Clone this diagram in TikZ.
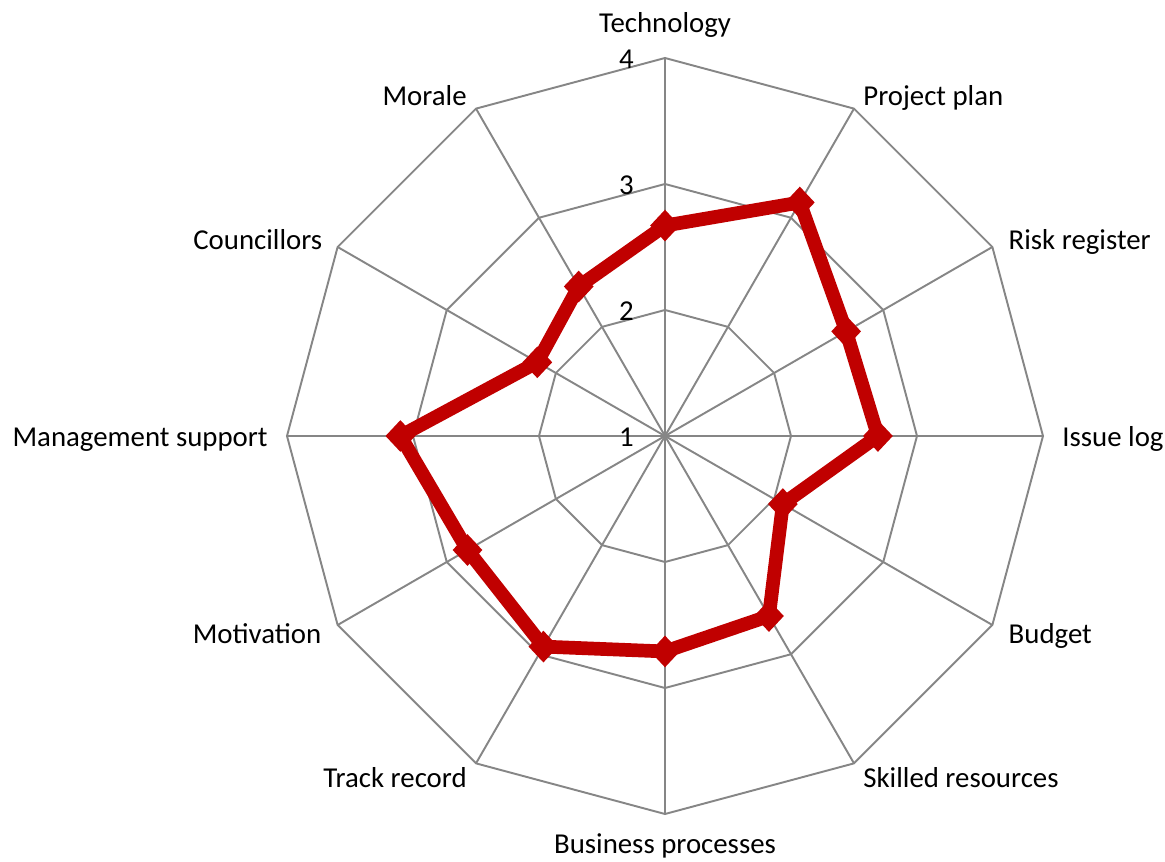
\documentclass[tikz,border=0pt]{standalone}
\usepackage{fontspec}
\setmainfont{Carlito}
\usetikzlibrary{shapes.geometric}
\definecolor{gridgray}{HTML}{868686}
\definecolor{seriesred}{HTML}{C00000}
\tikzset{
  grid line/.style={draw=gridgray, line width=1.1pt},
  series line/.style={draw=seriesred, line width=7.8pt, line join=round},
  marker/.style={diamond, fill=seriesred, inner sep=0pt,
    minimum width=0.6cm, minimum height=0.64cm},
  axis label/.style={font=\fontsize{16.4}{19}\selectfont, inner sep=0pt},
}
\begin{document}
\begin{tikzpicture}
\def\rstep{2.52}
\useasboundingbox (-13.3,-8.52) rectangle (10.0,8.72);
\coordinate (o) at (0,0);
% rings
\foreach \r in {1,2,3}
  \draw[grid line] (0:\r*\rstep) \foreach \a in {30,60,...,330} { -- (\a:\r*\rstep) } -- cycle;
% spokes
\foreach \a in {0,30,...,330} {
  \coordinate (v\a) at (\a:3*\rstep);
  \draw[grid line] (o) -- (v\a);
}
% scale
\foreach \v [count=\i from 0] in {1,2,3,4}
  \node[axis label, anchor=base east] (t\v) at (-0.62,{\i*\rstep-0.22}) {\v};
% categories
\foreach \a/\txt/\anc/\sx/\sy [count=\i] in {
  90/Technology/base/0/25,
  60/Project plan/base west/9/3,
  30/Risk register/base west/16/-3,
  0/Issue log/base west/19/-11,
  -30/Budget/base west/16/-18,
  -60/Skilled resources/base west/9/-24,
  -90/Business processes/base/0/-39,
  -120/Track record/base east/-9/-24,
  -150/Motivation/base east/-16/-18,
  180/Management support/base east/-19/-11,
  150/Councillors/base east/-15/-3,
  120/Morale/base east/-9/3}
  \node[axis label, anchor=\anc, xshift=\sx*0.02cm, yshift=\sy*0.02cm] (l\i) at (\a:3*\rstep) {\txt};
% series
\foreach \a/\v [count=\i] in {90/1.67, 60/2.14, 30/1.66, 0/1.69, -30/1.08, -60/1.65,
    -90/1.71, -120/1.93, -150/1.81, 180/2.10, 150/1.17, 120/1.37}
  \coordinate (c\i) at (\a:\v*\rstep);
\draw[series line] (c1) \foreach \i in {2,...,12} { -- (c\i) } -- cycle;
\foreach \i in {1,...,12}
  \node[marker] (m\i) at (c\i) {};
\end{tikzpicture}
\end{document}
